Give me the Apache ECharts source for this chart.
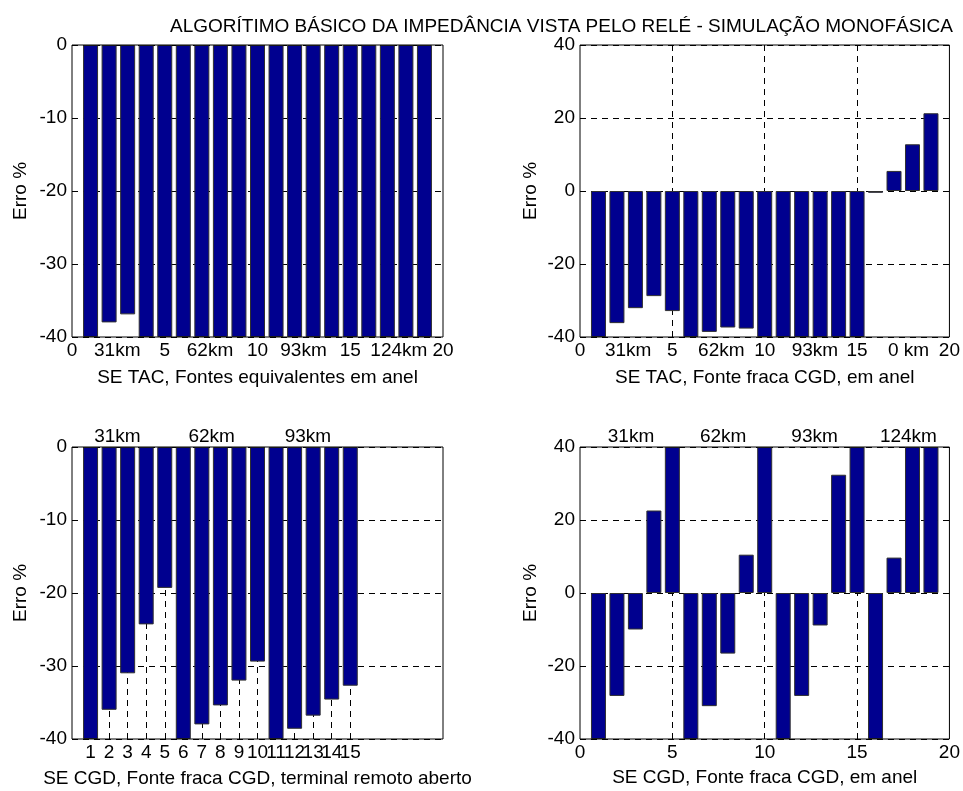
<!DOCTYPE html>
<html><head><meta charset="utf-8">
<script src="https://cdn.jsdelivr.net/npm/echarts@6/dist/echarts.min.js"></script>
<style>html,body{margin:0;padding:0;background:#fff}#c{width:963px;height:791px}</style>
</head><body><div id="c"></div>
<script>
const titleText = 'ALGORÍTIMO BÁSICO DA IMPEDÂNCIA VISTA PELO RELÉ - SIMULAÇÃO MONOFÁSICA';
const yName = 'Erro %';

const xPos19 = [1,2,3,4,5,6,7,8,9,10,11,12,13,14,15,16,17,18,19];
const xPos15 = [1,2,3,4,5,6,7,8,9,10,11,12,13,14,15];

const tlValues = [-40,-38,-36.9,-40,-40,-40,-40,-40,-40,-40,-40,-40,-40,-40,-40,-40,-40,-40,-40];
const trValues = [-40,-36.2,-32.1,-28.8,-32.9,-40,-38.6,-37.4,-37.7,-40,-40,-40,-40,-40,-40,-0.5,5.5,12.8,21.3];
const blValues = [-40,-36,-31,-24.3,-19.3,-40,-38,-35.4,-32,-29.4,-40,-38.6,-36.8,-34.6,-32.7];
const brValues = [-40,-28.2,-10,22.6,40,-40,-31,-16.6,10.5,40,-40,-28.2,-8.9,32.4,40,-40,9.7,40,40];

const tlTickVals = [0,2.44,5,7.44,10,12.48,15,17.62,20];
const tlTickLabels = ['0','31km','5','62km','10','93km','15','124km','20'];
const trTickVals = [0,2.61,5,7.65,10,12.72,15,17.79,20];
const trTickLabels = ['0','31km','5','62km','10','93km','15','0 km','20'];
const blTickVals = [1,2,3,4,5,6,7,8,9,10,11,12,13,14,15];
const blTickLabels = ['1','2','3','4','5','6','7','8','9','10','11','12','13','14','15'];
const blTopVals = [2.45,7.53,12.72];
const blTopLabels = ['31km','62km','93km'];
const brTickVals = [0,5,10,15,20];
const brTickLabels = ['0','5','10','15','20'];
const brTopVals = [2.76,7.75,12.70,17.78];
const brTopLabels = ['31km','62km','93km','124km'];
const gridLinesX5 = [5,10,15];

const xNames = ['SE TAC, Fontes equivalentes em anel','SE TAC, Fonte fraca CGD, em anel','SE CGD, Fonte fraca CGD, terminal remoto aberto','SE CGD, Fonte fraca CGD, em anel'];

const FONT = 'Liberation Sans, Arial, sans-serif';
const FS = 19;
const txt = {color:'#000', fontFamily: FONT, fontSize: FS};
const dashed = {show:true, lineStyle:{color:'#000', type:[6,5], width:1}};

function lookup(vals, labels){
  return function(v){
    for (let i=0;i<vals.length;i++){ if (Math.abs(vals[i]-v)<1e-6) return labels[i]; }
    return '';
  };
}
const grids = [
  {left:72, top:45, width:371, height:292},
  {left:580, top:45, width:371, height:292},
  {left:72, top:447, width:371, height:292},
  {left:580, top:447, width:371, height:292}
];
const xAxes = [];
const yAxes = [];
const series = [];
const cfg = [
  {vals:tlTickVals, labels:tlTickLabels, lines:gridLinesX5, ymin:-40, ymax:0, yint:10, data:tlValues, xs:xPos19, nameGap:31},
  {vals:trTickVals, labels:trTickLabels, lines:gridLinesX5, ymin:-40, ymax:40, yint:20, data:trValues, xs:xPos19, nameGap:31},
  {vals:blTickVals, labels:blTickLabels, lines:blTickVals, ymin:-40, ymax:0, yint:10, data:blValues, xs:xPos15, nameGap:30, topVals:blTopVals, topLabels:blTopLabels},
  {vals:brTickVals, labels:brTickLabels, lines:gridLinesX5, ymin:-40, ymax:40, yint:20, data:brValues, xs:xPos19, nameGap:29, topVals:brTopVals, topLabels:brTopLabels}
];
cfg.forEach((c, g) => {
  const xi = xAxes.length;
  // split labels into two alternating groups so overlapping labels are never dropped
  const evenVals = c.vals.filter((v,i)=>i%2===0);
  const oddVals = c.vals.filter((v,i)=>i%2===1);
  xAxes.push({
    type:'value', gridIndex:g, min:0, max:20, position:'bottom',
    name: xNames[g], nameLocation:'middle', nameGap:c.nameGap, nameTextStyle: txt,
    axisLine:{show:false}, axisTick:{show:false, customValues:evenVals}, splitLine:{show:false},
    axisLabel:Object.assign({customValues:evenVals, interval:0, margin:4, formatter:lookup(c.vals,c.labels), showMinLabel:true, showMaxLabel:true, hideOverlap:false}, txt)
  });
  xAxes.push({
    type:'value', gridIndex:g, min:0, max:20, position:'bottom',
    axisLine:{show:false}, axisTick:{show:false, customValues:oddVals}, splitLine:{show:false},
    axisLabel:Object.assign({customValues:oddVals, interval:0, margin:4, formatter:lookup(c.vals,c.labels), showMinLabel:true, showMaxLabel:true, hideOverlap:false}, txt)
  });
  xAxes.push({
    type:'value', gridIndex:g, min:0, max:20, position:'bottom',
    axisLine:{show:false}, axisLabel:{show:false},
    axisTick:{show:false, customValues:c.lines},
    splitLine: dashed
  });
  if (c.topVals){
    xAxes.push({
      type:'value', gridIndex:g, min:0, max:20, position:'top',
      axisLine:{show:false}, axisTick:{show:false, customValues:c.topVals}, splitLine:{show:false},
      axisLabel:Object.assign({customValues:c.topVals, interval:0, margin:1, formatter:lookup(c.topVals,c.topLabels)}, txt)
    });
  }
  const yi = yAxes.length;
  yAxes.push({
    type:'value', gridIndex:g, min:c.ymin, max:c.ymax, interval:c.yint,
    name: yName, nameLocation:'middle', nameGap: (g%2===0 ? 42 : 40), nameTextStyle: txt,
    axisLine:{show:false}, axisTick:{show:false},
    axisLabel:Object.assign({margin:5}, txt),
    splitLine: dashed
  });
  series.push({
    type:'bar', xAxisIndex:xi, yAxisIndex:yi, barWidth:15, clip:true,
    itemStyle:{color:'#00008F', borderColor:'#303030', borderWidth:1},
    data: c.xs.map((x,i)=>[x, c.data[i]]),
    z:3, silent:true, animation:false
  });
});
const chart = echarts.init(document.getElementById('c'), null, {renderer:'canvas'});
chart.setOption({
  backgroundColor:'#fff',
  animation:false,
  title:{text:titleText, right:5, top:12, textStyle:{color:'#000', fontFamily:FONT, fontSize:FS, fontWeight:'normal'}},
  grid: grids.map(g=>Object.assign({show:true, borderColor:'#000', borderWidth:1, backgroundColor:'transparent', z:5}, g)),
  xAxis: xAxes,
  yAxis: yAxes,
  series: series
});
</script></body></html>
